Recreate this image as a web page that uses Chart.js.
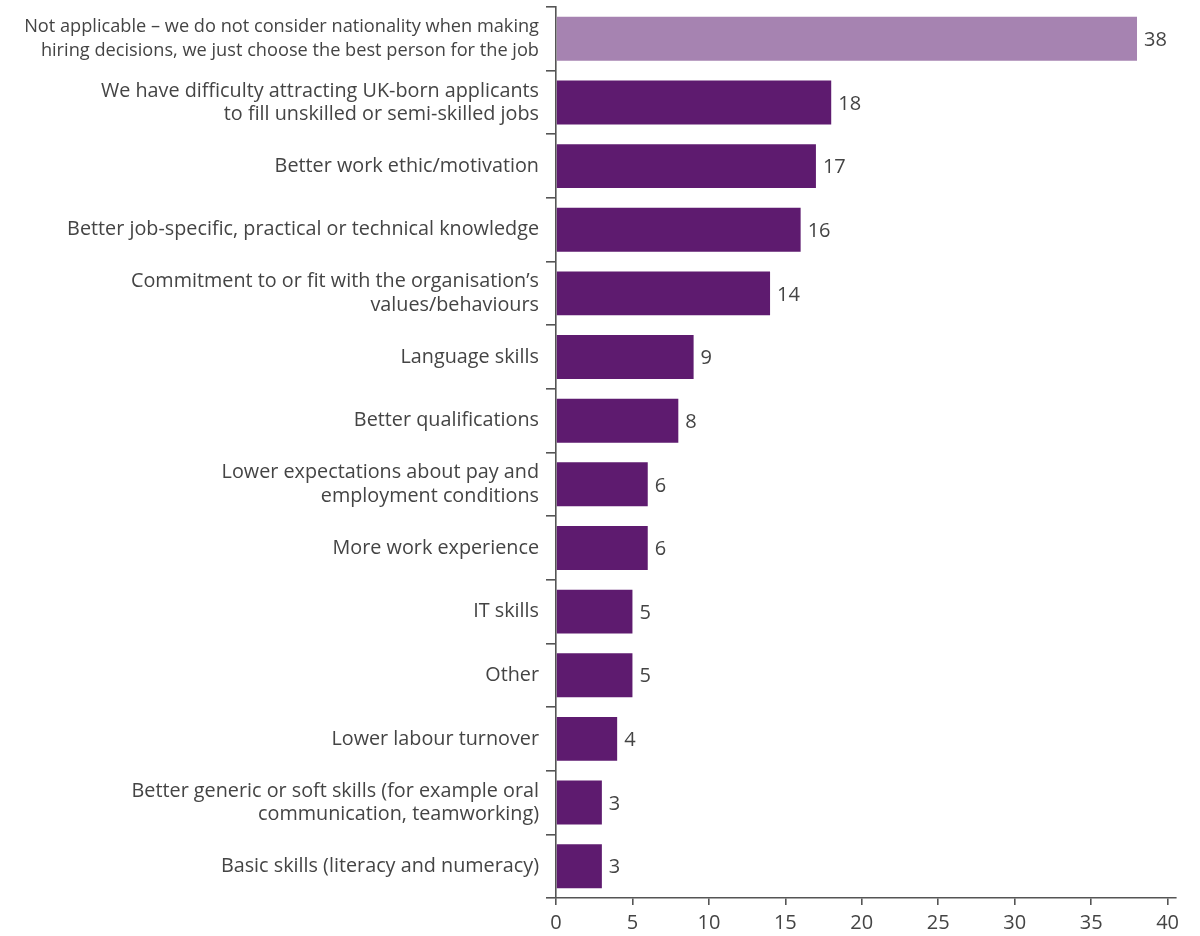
<!DOCTYPE html>
<html>
<head>
<meta charset="utf-8">
<script src="https://cdn.jsdelivr.net/npm/chart.js@4"></script>
<style>
  html, body { margin: 0; padding: 0; background: #fff; }
  #wrap { width: 1200px; height: 936px; }
</style>
</head>
<body>
<div id="wrap"><canvas id="chart"></canvas></div>
<script>
// reasons given, one entry per bar (top to bottom)
var categories = [
    ["Not applicable \u2013 we do not consider nationality when making", "hiring decisions, we just choose the best person for the job"],
    ["We have difficulty attracting UK-born applicants", "to fill unskilled or semi-skilled jobs"],
    "Better work ethic/motivation",
    "Better job-specific, practical or technical knowledge",
    ["Commitment to or fit with the organisation\u2019s", "values/behaviours"],
    "Language skills",
    "Better qualifications",
    ["Lower expectations about pay and", "employment conditions"],
    "More work experience",
    "IT skills",
    "Other",
    "Lower labour turnover",
    ["Better generic or soft skills (for example oral", "communication, teamworking)"],
    "Basic skills (literacy and numeracy)"
];
var percentages = [38, 18, 17, 16, 14, 9, 8, 6, 6, 5, 5, 4, 3, 3];
var xTicks = [0, 5, 10, 15, 20, 25, 30, 35, 40];

var fontName = "'Open Sans'";
var textColor = "#444";
var axisColor = "#555";

var barColors = percentages.map(function(v, i){
    return i === 0 ? "#a683b1" : "#5e1b6f";
});

// writes the number just past the end of each bar
var valueLabels = {
    id: "valueLabels",
    afterDatasetsDraw: function(chart){
        var ctx = chart.ctx;
        var meta = chart.getDatasetMeta(0);
        ctx.save();
        ctx.font = "20px " + fontName;
        ctx.fillStyle = textColor;
        ctx.textAlign = "left";
        ctx.textBaseline = "middle";
        meta.data.forEach(function(bar, i){
            ctx.fillText(String(percentages[i]), bar.x + 7, bar.y + 1.5);
        });
        ctx.restore();
    }
};

new Chart(document.getElementById("chart"), {
    type: "bar",
    data: {
        labels: categories,
        datasets: [{
            data: percentages,
            backgroundColor: barColors,
            borderWidth: 0,
            barPercentage: 0.69,
            categoryPercentage: 1
        }]
    },
    options: {
        indexAxis: "y",
        responsive: true,
        maintainAspectRatio: false,
        animation: false,
        layout: { padding: { left: 0, right: 24, top: 7, bottom: 0 } },
        plugins: {
            legend: { display: false },
            tooltip: { enabled: false }
        },
        scales: {
            x: {
                min: 0,
                max: 40.55,
                afterBuildTicks: function(scale){
                    scale.ticks = xTicks.map(function(v){ return { value: v }; });
                },
                afterFit: function(scale){
                    scale.height = 38;
                    scale.paddingLeft = 0;
                    scale.paddingRight = 0;
                },
                border: { color: axisColor, width: 1.6 },
                grid: { drawOnChartArea: false, color: axisColor, tickLength: 7, lineWidth: 1.6 },
                ticks: {
                    color: textColor,
                    padding: 6,
                    maxRotation: 0,
                    font: { family: fontName, size: 20 }
                }
            },
            y: {
                afterFit: function(scale){
                    scale.width = 556;
                    scale.paddingTop = 0;
                    scale.paddingBottom = 0;
                },
                border: { color: axisColor, width: 1.6 },
                grid: { drawOnChartArea: false, offset: true, color: axisColor, tickLength: 10, lineWidth: 1.6 },
                ticks: {
                    color: textColor,
                    padding: 7,
                    // the long first label is set a little smaller so it fits
                    font: function(ctx){
                        return {
                            family: fontName,
                            size: ctx.index === 0 ? 18.2 : 19.8,
                            lineHeight: ctx.index === 0 ? 1.27 : 1.17
                        };
                    }
                }
            }
        }
    },
    plugins: [valueLabels]
});
</script>
</body>
</html>
